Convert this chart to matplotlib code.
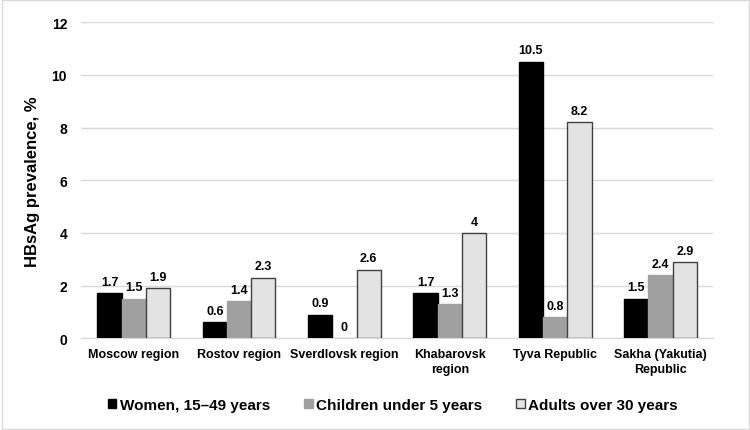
import numpy as np
import matplotlib.pyplot as plt

plt.rcParams['font.family'] = ['Liberation Sans', 'DejaVu Sans']
plt.rcParams['font.weight'] = 'bold'

regions = ['Moscow region', 'Rostov region', 'Sverdlovsk region',
           'Khabarovsk\nregion', 'Tyva Republic', 'Sakha (Yakutia)\nRepublic']
women = [1.7, 0.6, 0.9, 1.7, 10.5, 1.5]
children = [1.5, 1.4, 0, 1.3, 0.8, 2.4]
adults = [1.9, 2.3, 2.6, 4, 8.2, 2.9]
series_names = ['Women, 15\u201349 years', 'Children under 5 years', 'Adults over 30 years']

fig = plt.figure(figsize=(7.5, 4.31), dpi=100)
ax = fig.add_axes([0.108, 0.213, 0.843, 0.733])

x = np.arange(len(regions))
w = 0.23
styles = [dict(color='black', edgecolor='black'),
          dict(color='#a0a0a0', edgecolor='#a0a0a0'),
          dict(color='#e3e3e3', edgecolor='#404040')]
for i, (vals, name, st) in enumerate(zip([women, children, adults], series_names, styles)):
    bars = ax.bar(x + (i - 1) * w, vals, w, label=name, linewidth=1.0, zorder=3, **st)
    for b, v in zip(bars, vals):
        ax.text(b.get_x() + b.get_width() / 2, v + 0.2, f'{v:g}', ha='center', va='bottom',
                fontsize=9, fontweight='bold')

ax.set_xlim(-0.5, len(regions) - 0.5)
ax.set_ylim(0, 12)
ax.set_yticks(range(0, 13, 2))
ax.set_xticks(x)
ax.set_xticklabels(regions, fontsize=9, fontweight='bold', linespacing=1.3)
ax.tick_params(axis='y', labelsize=10, length=0, pad=10)
ax.tick_params(axis='x', length=0, pad=7)
ax.grid(axis='y', color='#d9d9d9', linewidth=1, zorder=0)
for s in ['top', 'right', 'left']:
    ax.spines[s].set_visible(False)
ax.spines['bottom'].set_color('#d9d9d9')
ax.set_ylabel('HBsAg prevalence, %', fontsize=12, fontweight='bold', labelpad=8)

fig.legend(loc='lower center', bbox_to_anchor=(0.524, 0.01), ncol=3, frameon=False,
           fontsize=11, handlelength=0.55, handleheight=0.55, handletextpad=0.25,
           columnspacing=2.2)

fig.patches.append(plt.Rectangle((0.002, 0.002), 0.996, 0.996, transform=fig.transFigure,
                                 fill=False, edgecolor='#d9d9d9', linewidth=1))

fig.savefig('out.png', dpi=100)
